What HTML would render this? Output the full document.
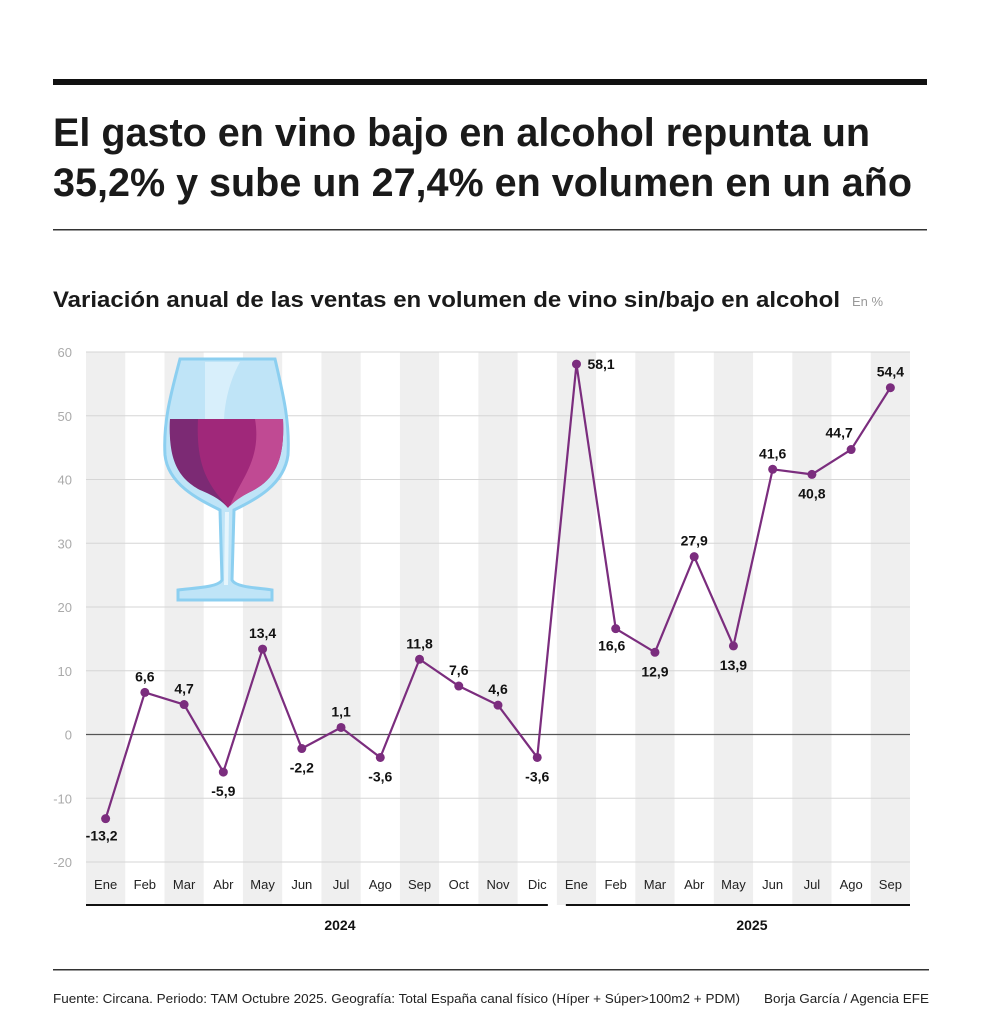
<!DOCTYPE html>
<html><head><meta charset="utf-8">
<style>
body{margin:0;background:#fff;font-family:"Liberation Sans",Arial,sans-serif;}
#wrap{position:relative;width:982px;height:1024px;overflow:hidden;}
</style></head>
<body>
<div id="wrap">
<svg id="chart" width="982" height="1024" style="position:absolute;left:0;top:0">
  <rect x="53" y="79" width="874" height="6" fill="#111"/>
  <text x="53" y="146" font-size="40" font-weight="bold" fill="#1a1a1a" textLength="817" lengthAdjust="spacingAndGlyphs">El gasto en vino bajo en alcohol repunta un</text>
  <text x="53" y="196" font-size="40" font-weight="bold" fill="#1a1a1a" textLength="859" lengthAdjust="spacingAndGlyphs">35,2% y sube un 27,4% en volumen en un año</text>
  <rect x="53" y="229" width="874" height="1.5" fill="#333"/>
  <text x="53" y="307" font-size="22" font-weight="bold" fill="#1a1a1a" textLength="787" lengthAdjust="spacingAndGlyphs">Variación anual de las ventas en volumen de vino sin/bajo en alcohol</text>
  <text x="852" y="306" font-size="13" fill="#999">En %</text>
  <g id="bands"></g>
  <g id="grid"></g>
  <g id="glass">
    <path d="M180,359 L275,359 C282,390 290,420 288,455 C284,485 255,500 234,510 L232,580 C236,588 262,588 272,590 L272,600 L178,600 L178,590 C190,588 218,588 222,580 L220,510 C200,500 168,485 165,455 C163,420 172,390 180,359Z" fill="#bfe4f7" stroke="#8ccff0" stroke-width="3"/>
    <path d="M170,419 L283,419 C285,460 275,480 250,492 C238,498 232,503 228,508 C224,503 218,498 206,492 C180,480 168,460 170,419Z" fill="#a0287a"/>
    <path d="M170,419 L198,419 C196,460 205,480 222,500 L228,508 C222,500 210,494 200,490 C178,478 168,460 170,419Z" fill="#7c2a74"/>
    <path d="M255,419 L283,419 C285,460 275,480 250,492 C240,497 234,502 230,506 C240,480 262,460 255,419Z" fill="#c04a93"/>
    <path d="M225,512 L229,512 L228,585 L224,585Z" fill="#e6f5fc"/>
    <path d="M205,362 L240,362 C230,380 225,400 224,419 L205,419Z" fill="#e3f4fc" opacity="0.7"/>
  </g>
  <g id="xlabels"></g>
  <g id="series"></g>
  <g id="years"></g>
  <rect x="53" y="969" width="876" height="1.5" fill="#333"/>
  <text x="53" y="1003" font-size="13" fill="#222" textLength="687" lengthAdjust="spacingAndGlyphs">Fuente: Circana. Periodo: TAM Octubre 2025. Geografía: Total España canal físico (Híper + Súper&gt;100m2 + PDM)</text>
  <text x="764" y="1003" font-size="13" fill="#222" textLength="165" lengthAdjust="spacingAndGlyphs">Borja García / Agencia EFE</text>
</svg>
<script>
const months=["Ene","Feb","Mar","Abr","May","Jun","Jul","Ago","Sep","Oct","Nov","Dic","Ene","Feb","Mar","Abr","May","Jun","Jul","Ago","Sep"];
const values=[-13.2,6.6,4.7,-5.9,13.4,-2.2,1.1,-3.6,11.8,7.6,4.6,-3.6,58.1,16.6,12.9,27.9,13.9,41.6,40.8,44.7,54.4];
const valueLabels=["-13,2","6,6","4,7","-5,9","13,4","-2,2","1,1","-3,6","11,8","7,6","4,6","-3,6","58,1","16,6","12,9","27,9","13,9","41,6","40,8","44,7","54,4"];
const labelSide=["bl","t","t","b","t","b","t","b","t","t","t","b","r","bl","b","t","b","t","b","tl","t"];
const yTicks=[-20,-10,0,10,20,30,40,50,60];
const years=["2024","2025"];
const yearSpans=[[0,11],[12,20]];

const NS="http://www.w3.org/2000/svg";
const X0=86,X1=910,Y60=352,Y_20=862;
const bw=(X1-X0)/months.length;
const x=i=>X0+bw*(i+0.5);
const y=v=>Y60+(60-v)*(Y_20-Y60)/80;
function mk(tag,attrs,parent){const e=document.createElementNS(NS,tag);for(const k in attrs)e.setAttribute(k,attrs[k]);parent.appendChild(e);return e;}

const bands=document.getElementById('bands');
months.forEach((m,i)=>{if(i%2===0){
  const r=mk('rect',{x:X0+bw*i,y:Y60,width:bw,height:905-Y60,fill:'#efefef'},bands);
  
  
}});
const grid=document.getElementById('grid');
yTicks.forEach(t=>{
  const l=mk('line',{x1:X0,x2:X1,y1:y(t),y2:y(t),stroke:t===0?'#555':'#d6d6d6','stroke-width':t===0?1.2:1},grid);
  
  
  const tx=mk('text',{x:72,y:y(t)+5,'font-size':13,fill:'#aaa','text-anchor':'end'},grid);
  tx.textContent=t;
  
  
});
const xl=document.getElementById('xlabels');
months.forEach((m,i)=>{
  const t=mk('text',{x:x(i),y:889,'font-size':13,fill:'#222','text-anchor':'middle'},xl);
  t.textContent=m;
  
  
});
const s=document.getElementById('series');
const pts=values.map((v,i)=>x(i)+','+y(v)).join(' ');
const line=mk('polyline',{points:pts,fill:'none',stroke:'#7b2d7e','stroke-width':2.2,'stroke-linejoin':'round'},s);


values.forEach((v,i)=>{
  const c=mk('circle',{cx:x(i),cy:y(v),r:4.5,fill:'#7b2d7e'},s);
  
  
  const side=labelSide[i];let lx=x(i),ly=y(v),anc='middle';
  if(side==='t')ly-=11;else if(side==='b')ly+=24;
  else if(side==='r'){lx+=11;ly+=5;anc='start';}
  else if(side==='bl'){lx-=4;ly+=22;}
  else if(side==='tl'){lx-=12;ly-=12;}
  const t=mk('text',{x:lx,y:ly,'font-size':14,'font-weight':'bold',fill:'#111','text-anchor':anc},s);
  t.textContent=valueLabels[i];
  
  
});
const yg=document.getElementById('years');
years.forEach((yr,k)=>{
  const [a,b]=yearSpans[k];
  const xa=k===0?X0:X0+bw*a+9, xb=k===0?X0+bw*(b+1)-9:X1;
  const l=mk('line',{x1:xa,x2:xb,y1:905,y2:905,stroke:'#111','stroke-width':2},yg);
  
  
  const t=mk('text',{x:(xa+xb)/2+(k===0?23:14),y:930,'font-size':14,'font-weight':'bold',fill:'#111','text-anchor':'middle'},yg);
  t.textContent=yr;
  
  
});
</script>
</div>
</body></html>
